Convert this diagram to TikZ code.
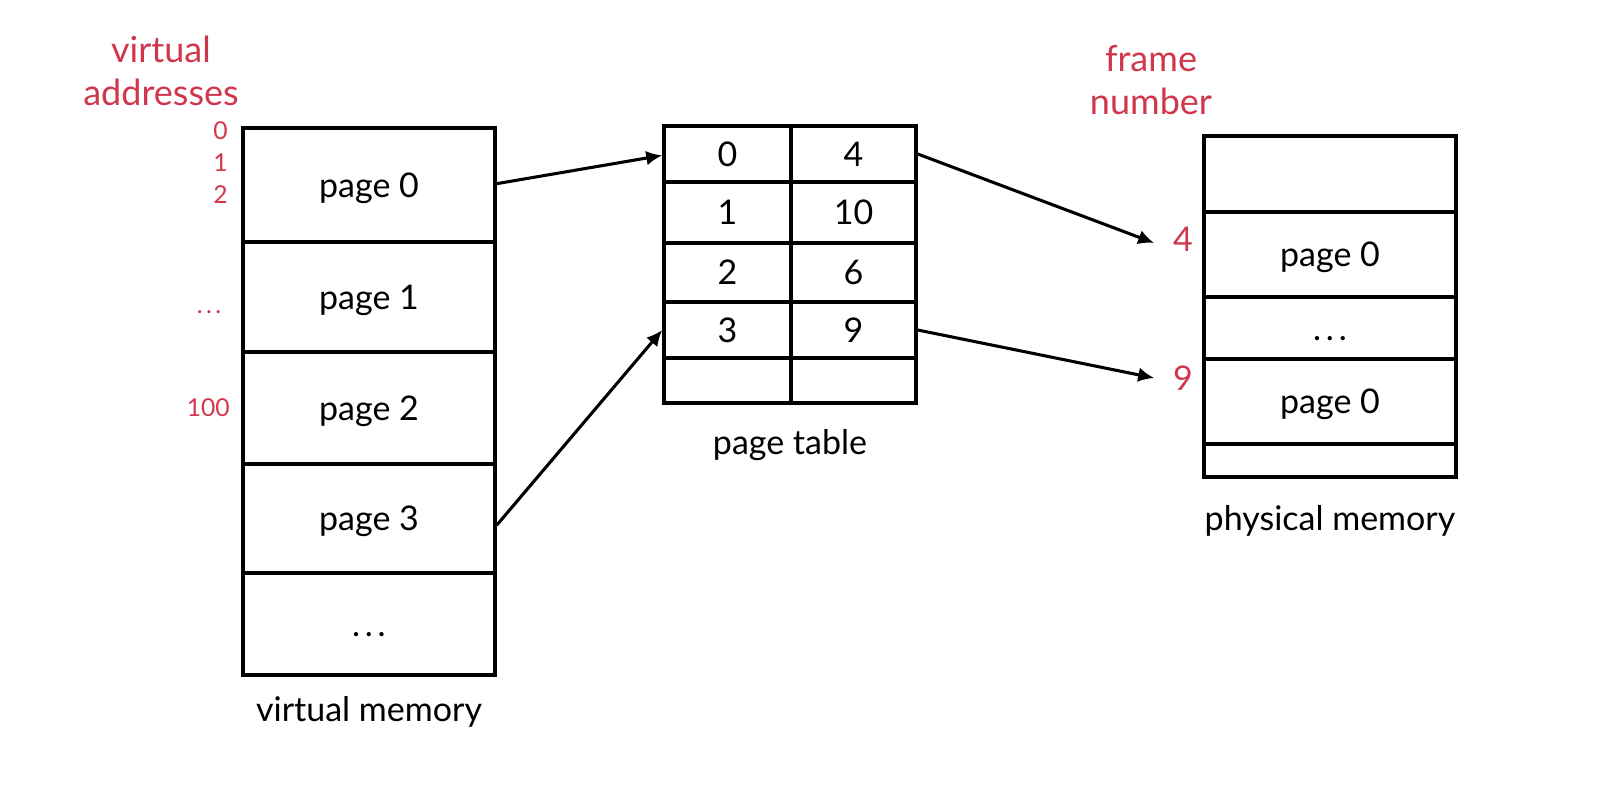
\documentclass[tikz,border=0pt]{standalone}
\usepackage{fontspec}
\setmainfont{Lato}
\usetikzlibrary{arrows.meta}
\definecolor{addrred}{HTML}{D0374C}
% three widely spaced dots
\newcommand\wdots{.\kern0.14em.\kern0.14em.}

\begin{document}
\begin{tikzpicture}[x=0.75pt,y=-0.75pt,
  cell/.style={draw, line width=2.6pt, inner sep=0pt, font=\fontsize{25.5}{30}\selectfont},
  lbl/.style={inner sep=0pt, font=\fontsize{25.5}{30}\selectfont},
  addr/.style={inner sep=0pt, text=addrred, font=\fontsize{18.5}{22}\selectfont},
  frameno/.style={inner sep=0pt, text=addrred, font=\fontsize{25.5}{30}\selectfont},
  head/.style={inner sep=0pt, text=addrred, align=center, font=\fontsize{27}{32}\selectfont},
  link/.style={line width=2.3pt, -{Latex[length=12pt,width=11pt]}}]
\useasboundingbox (0,0) rectangle (1614,794);

% one boxed cell with text: name, left, top, right, bottom, text
\newcommand\cellbox[6]{%
  \node[cell, minimum width={(#4-#2)*0.75pt}, minimum height={(#5-#3)*0.75pt}]
    (#1) at ({(#2+#4)/2},{(#3+#5)/2}) {\vphantom{page 0}\rule{0pt}{23pt}#6};}
% one empty boxed cell: name, left, top, right, bottom
\newcommand\blankcell[5]{%
  \node[cell, minimum width={(#4-#2)*0.75pt}, minimum height={(#5-#3)*0.75pt}]
    (#1) at ({(#2+#4)/2},{(#3+#5)/2}) {};}

% virtual memory
\cellbox{vp0}{243}{128}{495}{242}{page 0}
\cellbox{vp1}{243}{242}{495}{352}{page 1}
\cellbox{vp2}{243}{352}{495}{464}{page 2}
\cellbox{vp3}{243}{464}{495}{573}{page 3}
\cellbox{vp4}{243}{573}{495}{675}{\wdots}
\node[lbl] (vmlabel) at (369,712) {virtual memory};

% virtual addresses
\node[head] (vahead) at (161,71) {virtual\\addresses};
\node[addr, anchor=east] (a0) at (228,131) {0};
\node[addr, anchor=east] (a1) at (228,163) {1};
\node[addr, anchor=east] (a2) at (228,195) {2};
\node[addr] (adots) at (209,312) {\wdots};
\node[addr, anchor=east] (a100) at (230,408) {100};

% page table
\cellbox{pk0}{664}{126}{791}{182}{0}
\cellbox{pv0}{791}{126}{916}{182}{4}
\cellbox{pk1}{664}{182}{791}{243}{1}
\cellbox{pv1}{791}{182}{916}{243}{10}
\cellbox{pk2}{664}{243}{791}{302}{2}
\cellbox{pv2}{791}{243}{916}{302}{6}
\cellbox{pk3}{664}{302}{791}{358}{3}
\cellbox{pv3}{791}{302}{916}{358}{9}
\blankcell{pk4}{664}{358}{791}{403}
\blankcell{pv4}{791}{358}{916}{403}
\node[lbl] (ptlabel) at (790,445) {page table};

% physical memory
\blankcell{pm0}{1204}{136}{1456}{212}
\cellbox{pm1}{1204}{212}{1456}{297}{page 0}
\cellbox{pm2}{1204}{297}{1456}{359}{\wdots}
\cellbox{pm3}{1204}{359}{1456}{444}{page 0}
\blankcell{pm4}{1204}{444}{1456}{477}
\node[lbl] (pmlabel) at (1330,521) {physical memory};

% frame numbers
\node[head] (fnhead) at (1151,80) {frame\\number};
\node[frameno] (f4) at (1183,239) {4};
\node[frameno] (f9) at (1183,378) {9};

% translations
\draw[link] ([yshift=1pt]vp0.east) -- ([yshift=-1pt]pk0.west);
\draw[link] ([yshift=-5pt]vp3.east) -- (pk3.west);
\draw[link] (pv0.east) -- ([xshift=-14pt,yshift=-3pt]f4.west);
\draw[link] (pv3.east) -- ([xshift=-14pt]f9.west);
\end{tikzpicture}
\end{document}
